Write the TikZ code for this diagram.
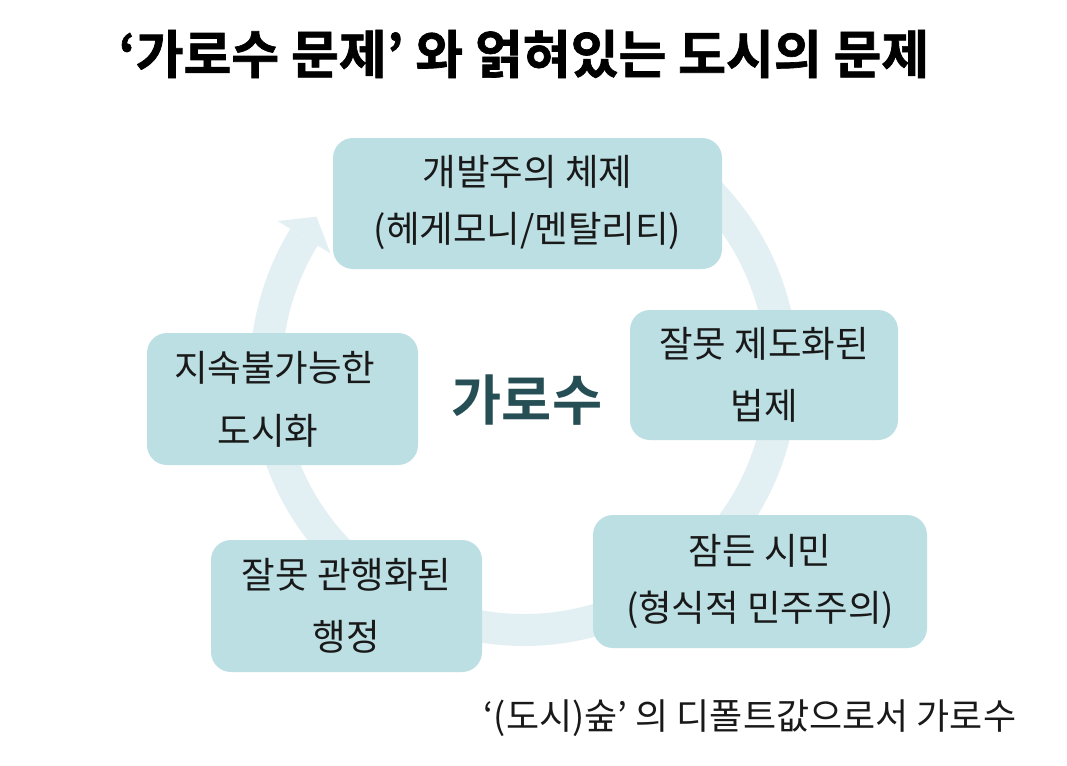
\documentclass[tikz,border=0pt]{standalone}
\usepackage{fontspec}
\setmainfont{Noto Sans CJK KR}[BoldFont={Noto Sans CJK KR Bold}]
\newfontfamily\heavyfont{Noto Sans CJK KR Bold}[FakeBold=1.3]
\usetikzlibrary{calc}
\definecolor{boxfill}{RGB}{188,223,227}
\definecolor{ringc}{RGB}{227,240,243}
\definecolor{hubc}{RGB}{38,78,85}
\definecolor{txt}{RGB}{25,25,25}
\begin{document}
\begin{tikzpicture}[x=1pt,y=1pt,
  stagebox/.style={draw=none, fill=boxfill, rounded corners=20pt, inner sep=0pt,
    align=center, text=txt, font=\fontsize{36.5}{57}\selectfont},
  widegap/.style={font=\fontsize{36.5}{62}\selectfont},
  hub/.style={text=hubc, font=\fontsize{54.5}{60}\selectfont\bfseries},
  titletext/.style={text=black, font=\fontsize{52}{56}\selectfont\heavyfont},
  caption/.style={text=txt, font=\fontsize{36}{42}\selectfont}]
\useasboundingbox (0,0) rectangle (1067,-765);
\fill[white] (0,0) rectangle (1067,-765);
% title
\node[titletext] (title) at (524,-54) {‘가로수 문제’ 와 얽혀있는 도시의 문제};
% ring
\coordinate (c) at (524,-372);
\draw[ringc, line width=32pt] ($(c)+(45:258)$) arc[start angle=45, end angle=-211.5, radius=258];
\fill[ringc] ($(c)+(148.5:289)$) -- ($(c)+(148.5:227)$) -- ($(c)+(148.5:258)+(12.5,20.5)$) -- cycle;
% boxes
\node[stagebox, minimum width=389pt, minimum height=131pt] (top) at (527.5,-203.5)
  {개발주의 체제\\(헤게모니/멘탈리티)\rule[-10pt]{0pt}{10pt}};
\node[stagebox, widegap, minimum width=268pt, minimum height=130pt] (right) at (764,-375)
  {잘못 제도화된\\법제};
\node[stagebox, minimum width=334pt, minimum height=133pt] (bright) at (760,-581.5)
  {잠든 시민\\(형식적 민주주의)};
\node[stagebox, widegap, minimum width=271pt, minimum height=132pt] (bleft) at (346.5,-606)
  {잘못 관행화된\\행정};
\node[stagebox, minimum width=271pt, minimum height=132pt, font=\fontsize{36.5}{63}\selectfont] (left) at (282.5,-399)
  {지속불가능한\hspace*{0.42em}\\도시화\hspace*{0.8em}};
% hub
\node[hub] (hubtext) at (527,-400) {가로수};
% caption
\node[caption] (cap) at (750,-718) {‘(도시)숲’ 의 디폴트값으로서 가로수};
\end{tikzpicture}
\end{document}
